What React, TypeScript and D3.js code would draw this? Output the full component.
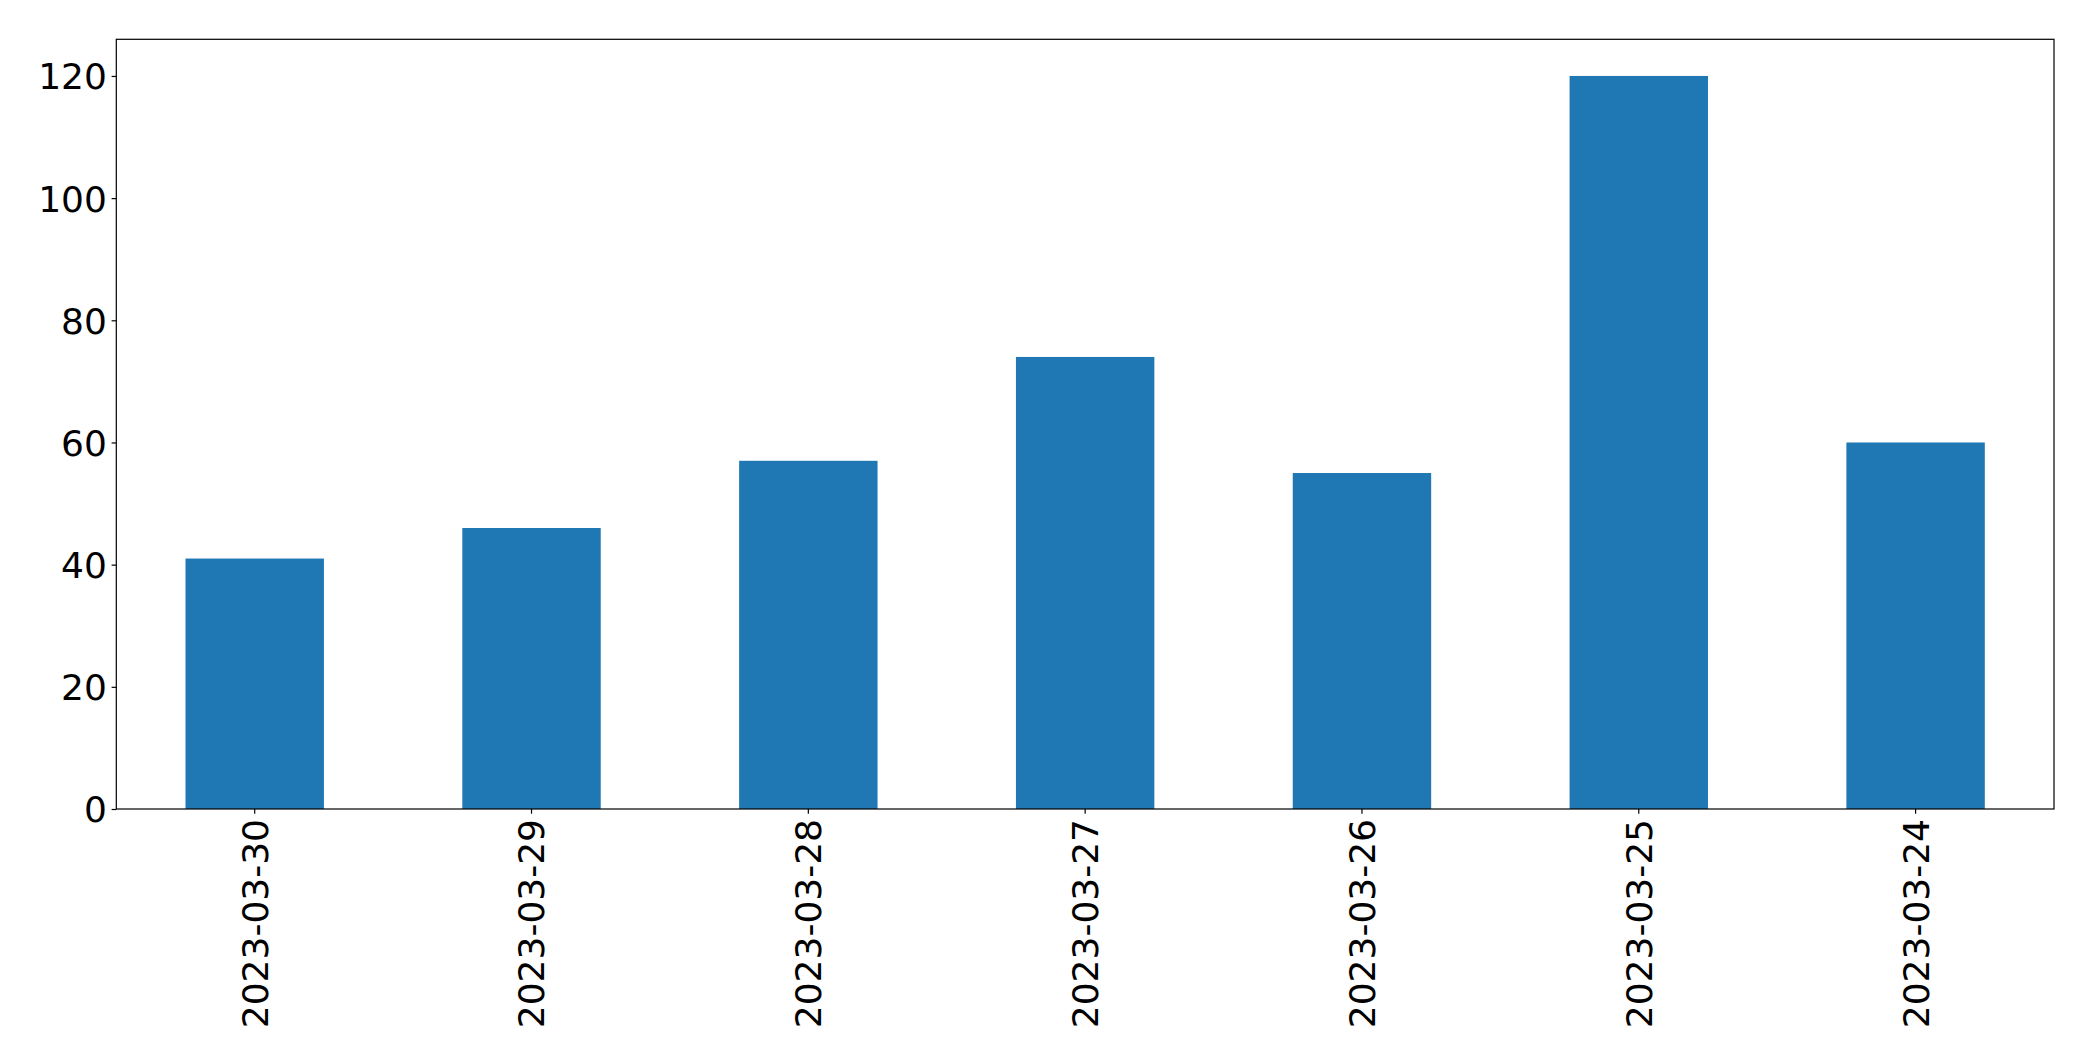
import React, { useEffect, useRef } from "react";
import * as d3 from "d3";

const categories = ["2023-03-30", "2023-03-29", "2023-03-28", "2023-03-27", "2023-03-26", "2023-03-25", "2023-03-24"];
const values = [41, 46, 57, 74, 55, 120, 60];
const yTicks = [0, 20, 40, 60, 80, 100, 120];

const W = 2093;
const H = 1061;
const M = { left: 116.3, right: W - 2054, top: 39.3, bottom: H - 809 };
const FONT = "DejaVu Sans, sans-serif";
const FS = 36;

export default function App() {
  const ref = useRef<SVGSVGElement>(null);
  useEffect(() => {
    const svg = d3.select(ref.current);
    svg.selectAll("*").remove();
    const x = d3.scaleBand<string>().domain(categories).range([M.left, W - M.right]).paddingInner(0.5).paddingOuter(0.25);
    const yMax = d3.max(values)! * 1.05;
    const y = d3.scaleLinear().domain([0, yMax]).range([H - M.bottom, M.top]);

    svg.append("rect").attr("width", W).attr("height", H).attr("fill", "#fff");

    svg.append("g").selectAll("rect").data(values).join("rect")
      .attr("x", (_, i) => x(categories[i])!)
      .attr("width", x.bandwidth())
      .attr("y", (d) => y(d))
      .attr("height", (d) => y(0) - y(d))
      .attr("fill", "#1f77b4");

    const yAxis = svg.append("g").attr("transform", `translate(${M.left},0)`)
      .call(d3.axisLeft(y).tickValues(yTicks).tickSize(4.7).tickPadding(4.7).tickFormat(d3.format("d")));
    yAxis.select(".domain").remove();
    yAxis.selectAll("text").attr("font-size", FS).attr("font-family", FONT).attr("fill", "#000").attr("dy", "0.36em");
    yAxis.selectAll("line").attr("stroke", "#000").attr("stroke-width", 1.2);

    const xAxis = svg.append("g").attr("transform", `translate(0,${H - M.bottom})`)
      .call(d3.axisBottom(x).tickSize(4.7).tickPadding(0));
    xAxis.select(".domain").remove();
    xAxis.selectAll("line").attr("stroke", "#000").attr("stroke-width", 1.2);
    xAxis.selectAll("text")
      .attr("font-size", FS).attr("font-family", FONT).attr("fill", "#000")
      .attr("text-anchor", "end")
      .attr("transform", "translate(0,10) rotate(-90)")
      .attr("x", 0).attr("y", 0).attr("dy", "0.36em");

    svg.append("rect")
      .attr("x", M.left).attr("y", M.top)
      .attr("width", W - M.right - M.left).attr("height", H - M.bottom - M.top)
      .attr("fill", "none").attr("stroke", "#000").attr("stroke-width", 1.2);
  }, []);
  return (
    <svg ref={ref} width={W} height={H} style={{ position: "absolute", left: 0, top: 0, display: "block" }} />
  );
}
